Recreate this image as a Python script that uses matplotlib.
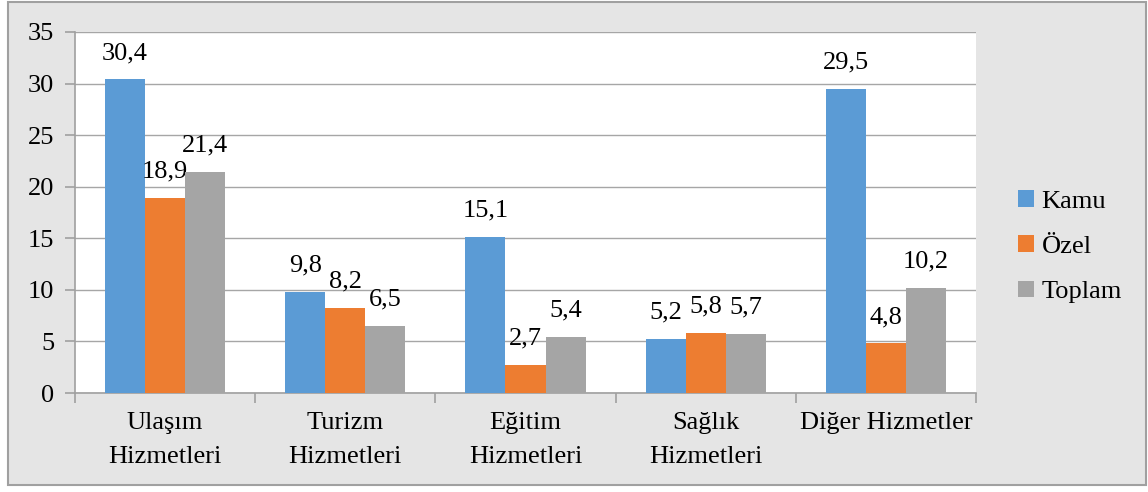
import matplotlib
matplotlib.use('Agg')
import matplotlib.pyplot as plt
import numpy as np
from matplotlib.patches import Rectangle

plt.rcParams['font.family'] = ['Liberation Serif', 'DejaVu Serif']

kategoriler = ['Ulaşım\nHizmetleri', 'Turizm\nHizmetleri', 'Eğitim\nHizmetleri',
               'Sağlık\nHizmetleri', 'Diğer Hizmetler']
kamu = [30.4, 9.8, 15.1, 5.2, 29.5]
ozel = [18.9, 8.2, 2.7, 5.8, 4.8]
toplam = [21.4, 6.5, 5.4, 5.7, 10.2]
seriler = ['Kamu', 'Özel', 'Toplam']
renkler = ['#5b9bd5', '#ed7d31', '#a5a5a5']

fs = 19

fig = plt.figure(figsize=(11.48, 4.92), dpi=100)
fig.patch.set_facecolor('white')
# gri cerceve
fig.patches.append(Rectangle((8/1148, 7/492), 1138/1148, 483/492, transform=fig.transFigure,
                             facecolor='#e5e5e5', edgecolor='#a0a0a0', lw=1.5, zorder=-10))

ax = fig.add_axes([75/1148, 99/492, 901/1148, 361/492])
ax.set_facecolor('white')

x = np.arange(len(kategoriler))
w = 0.222
for i, (vals, ad, renk) in enumerate(zip([kamu, ozel, toplam], seriler, renkler)):
    bars = ax.bar(x + (i - 1) * w, vals, w, color=renk, label=ad, zorder=3)
    for b, v in zip(bars, vals):
        ax.text(b.get_x() + b.get_width() / 2, v + 1.5, f'{v:.1f}'.replace('.', ','),
                ha='center', va='bottom', fontsize=fs)

ax.set_xlim(-0.5, len(kategoriler) - 0.5)
ax.set_ylim(0, 35)
ax.set_yticks(range(0, 36, 5))
ax.yaxis.grid(True, color='#a6a6a6', lw=1, zorder=0)
ax.set_xticks(np.arange(-0.5, len(kategoriler), 1))
ax.set_xticklabels([])
ax.set_xticks(x, minor=True)
ax.set_xticklabels(kategoriler, minor=True, fontsize=fs, linespacing=1.7)
ax.tick_params(axis='x', which='minor', length=0, pad=14)
ax.tick_params(axis='x', which='major', length=7, color='#a0a0a0', width=1.2)
ax.tick_params(axis='y', length=7, color='#a0a0a0', width=1.2, labelsize=fs, pad=8)
for s in ['top', 'right']:
    ax.spines[s].set_visible(False)
ax.spines['left'].set_color('#a0a0a0')
ax.spines['bottom'].set_color('#a0a0a0')
ax.spines['left'].set_linewidth(1.2)
ax.spines['bottom'].set_linewidth(1.2)

ax.legend(loc='center left', bbox_to_anchor=(1.02, 0.405), frameon=False, fontsize=fs,
          handlelength=0.6, handleheight=0.6, handletextpad=0.3, labelspacing=0.85)

fig.savefig('out.png', dpi=100)
